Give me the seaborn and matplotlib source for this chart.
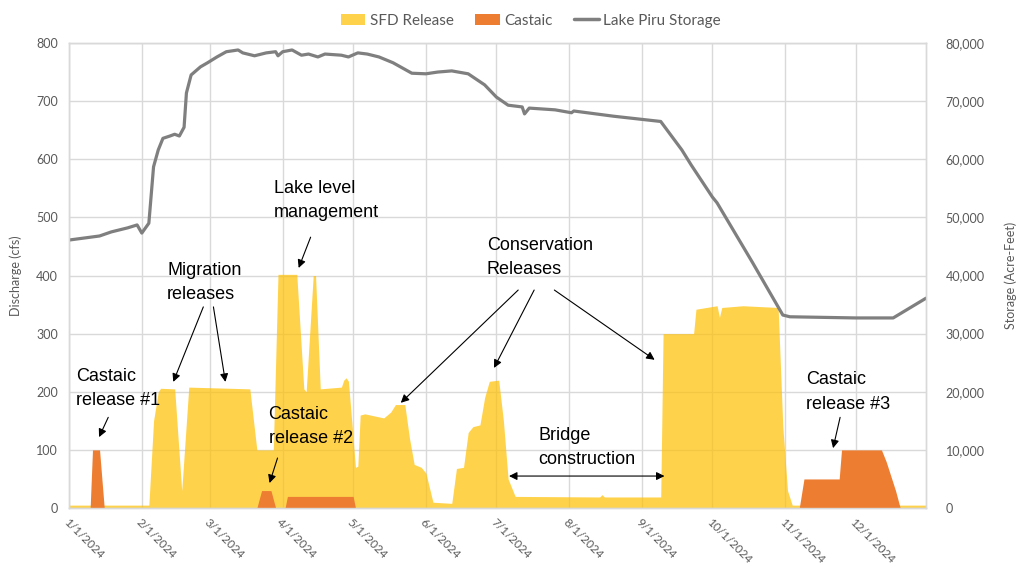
import pandas as pd
import seaborn as sns
import matplotlib.pyplot as plt
import matplotlib.dates as mdates
from matplotlib.patches import Patch
from matplotlib.lines import Line2D
from matplotlib.ticker import FuncFormatter

# all x values are days since 1/1/2024
start = pd.Timestamp("2024-01-01")

sfd_day = [0, 34, 36, 38, 39, 45, 48, 51, 77, 80, 87, 89, 97, 100, 101, 104, 105, 107,
           116, 117, 118, 119, 121, 122, 123, 124, 126, 134, 137, 139, 143, 145, 147,
           150, 152, 155, 163, 165, 168, 170, 172, 175, 177, 179, 183, 185, 187, 190,
           226, 227, 228, 252, 253, 266, 267, 276, 277, 278, 287, 302, 304, 306, 308, 365]
sfd_cfs = [5, 5, 150, 200, 206, 205, 30, 208, 205, 100, 100, 402, 402, 205, 200, 400, 400, 205,
           208, 220, 224, 218, 120, 70, 72, 160, 162, 155, 165, 178, 178, 120, 75,
           70, 60, 10, 8, 68, 70, 130, 140, 143, 190, 218, 220, 150, 50, 20,
           19, 23, 19, 19, 300, 300, 342, 348, 328, 345, 348, 345, 140, 30, 5, 5]

castaic_day = [0, 9, 10, 13, 15, 80, 82, 86, 88, 92, 93, 121, 122,
               311, 313, 328, 329, 346, 348, 352, 354, 365]
castaic_cfs = [0, 0, 100, 100, 0, 0, 30, 30, 0, 0, 20, 20, 0,
               0, 50, 50, 100, 100, 80, 30, 0, 0]

storage_day = [0, 13, 18, 25, 29, 31, 34, 36, 38, 40, 43, 45, 47, 49, 50, 52, 56, 59, 63,
               67, 72, 74, 79, 84, 88, 89, 91, 95, 99, 102, 106, 109, 116, 119, 123, 127,
               132, 138, 146, 152, 157, 163, 170, 177, 182, 187, 193, 194, 196, 207, 214,
               215, 232, 252, 261, 265, 274, 276, 291, 304, 307, 335, 351, 365]
storage_af = [46100, 46800, 47500, 48200, 48700, 47300, 49000, 58700, 61600, 63600, 64000,
              64300, 64000, 65500, 71400, 74500, 75900, 76600, 77600, 78500, 78800, 78300,
              77800, 78300, 78500, 77800, 78500, 78800, 77900, 78100, 77600, 78100, 77900,
              77600, 78300, 78100, 77600, 76600, 74800, 74700, 75000, 75200, 74700, 72800,
              70700, 69300, 69000, 67800, 68800, 68500, 68000, 68300, 67400, 66500, 61600,
              59000, 53500, 52500, 42300, 33200, 32900, 32700, 32700, 36100]

month_labels = ["1/1/2024", "2/1/2024", "3/1/2024", "4/1/2024", "5/1/2024", "6/1/2024",
                "7/1/2024", "8/1/2024", "9/1/2024", "10/1/2024", "11/1/2024", "12/1/2024"]


def to_date(days):
    return start + pd.to_timedelta(days, unit="D")


def xd(day):
    return mdates.date2num(to_date(day))


yellow = "#FFC000"
orange = "#ED7D31"
grey = "#7F7F7F"
txt = "#595959"
grid = "#D9D9D9"

sns.set_theme(style="white")
plt.rcParams["font.family"] = ["Lato", "DejaVu Sans"]

fig, ax = plt.subplots(figsize=(10.21, 5.71), dpi=100)
fig.subplots_adjust(left=0.0676, right=0.907, top=0.9247, bottom=0.1103)
ax2 = ax.twinx()

ax.fill_between(to_date(sfd_day), sfd_cfs, color=yellow, alpha=0.7, lw=0, zorder=2)
ax.fill_between(to_date(castaic_day), castaic_cfs, color=orange, lw=0, zorder=3)
sns.lineplot(x=to_date(storage_day), y=storage_af, ax=ax2, color=grey, lw=2.3)

ax.set_ylim(0, 800)
ax2.set_ylim(0, 80000)
ax.set_yticks(range(0, 801, 100))
ax2.set_yticks(range(0, 80001, 10000))
ax2.yaxis.set_major_formatter(FuncFormatter(lambda v, p: f"{int(v):,}"))
ax.set_xlim(to_date(0), to_date(365))
ticks = pd.to_datetime(month_labels, format="%m/%d/%Y")
ax.set_xticks(ticks)
ax.set_xticklabels(month_labels, rotation=-45, ha="left", rotation_mode="anchor")

ax.grid(True, color=grid, lw=1)
ax.set_axisbelow(True)
for a in (ax, ax2):
    for s in a.spines.values():
        s.set_color(grid)
        s.set_linewidth(1)
ax.tick_params(axis="x", labelsize=8.5, colors=txt, length=0, pad=6)
ax.tick_params(axis="y", labelsize=9, colors=txt, length=0, pad=8)
ax2.tick_params(axis="y", labelsize=9, colors=txt, length=0, pad=14)
ax.set_xlabel("")
ax.set_ylabel("Discharge (cfs)", fontsize=9, color=txt, labelpad=10)
ax2.set_ylabel("Storage (Acre-Feet)", fontsize=9, color=txt, labelpad=14)

# annotations
note_kw = dict(fontsize=13, family=["Liberation Sans", "DejaVu Sans"], color="black",
               va="top", ha="left", linespacing=1.55, zorder=5)
arrow_kw = dict(arrowstyle="-|>", color="black", lw=0.8, mutation_scale=12,
                shrinkA=0, shrinkB=0)


def note(text, day, cfs):
    ax.text(xd(day), cfs, text, **note_kw)


def arrow(d0, v0, d1, v1, style=None):
    kw = dict(arrow_kw)
    if style:
        kw["arrowstyle"] = style
    ax.annotate("", xy=(xd(d1), v1), xytext=(xd(d0), v0), arrowprops=kw, zorder=5)


note("Castaic\nrelease #1", 3, 241)
arrow(16.7, 156, 12.8, 122)

note("Migration\nreleases", 41.8, 423)
arrow(57.2, 346, 44.4, 217)
arrow(61.5, 346, 66.6, 217)

note("Lake level\nmanagement", 87.1, 565)
arrow(102.9, 466, 97.8, 413)

note("Conservation\nReleases", 178, 467)
arrow(191.3, 375, 141.3, 181)
arrow(198.1, 375, 181, 241)
arrow(206.7, 375, 249.4, 255)

note("Castaic\nrelease #2", 85, 175)
arrow(88.8, 86, 85.4, 43)

note("Bridge\nconstruction", 199.8, 140)
arrow(187.4, 55, 253.6, 55, style="<|-|>")

note("Castaic\nrelease #3", 313.8, 235)
arrow(328.4, 156, 325.4, 103)

handles = [Patch(color=yellow, alpha=0.7, lw=0), Patch(color=orange, lw=0),
           Line2D([], [], color=grey, lw=2.5)]
fig.legend(handles, ["SFD Release", "Castaic", "Lake Piru Storage"], loc="upper center",
           bbox_to_anchor=(0.52, 1.0), ncol=3, frameon=False, fontsize=11,
           labelcolor=txt, handlelength=1.6, handletextpad=0.3, columnspacing=1.4)

fig.savefig("out.png", dpi=100)
